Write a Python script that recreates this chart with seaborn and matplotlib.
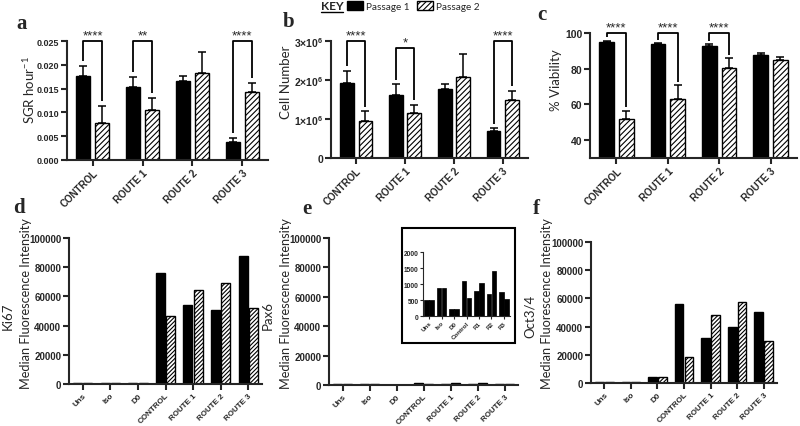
import numpy as np
import pandas as pd
import seaborn as sns
import matplotlib.pyplot as plt
from matplotlib.patches import Rectangle, Patch
from matplotlib.lines import Line2D

# ===============================
# DATA
# ===============================
routes = ["CONTROL", "ROUTE 1", "ROUTE 2", "ROUTE 3"]
passages = ["Passage 1", "Passage 2"]

sgr_p1 = [0.0177, 0.0153, 0.0166, 0.0037]
sgr_p1_err = [0.0020, 0.0022, 0.0010, 0.0009]
sgr_p2 = [0.0077, 0.0104, 0.0182, 0.0143]
sgr_p2_err = [0.0036, 0.0027, 0.0045, 0.0019]

cells_p1 = [1.93e6, 1.62e6, 1.78e6, 0.70e6]
cells_p1_err = [0.30e6, 0.27e6, 0.13e6, 0.06e6]
cells_p2 = [0.94e6, 1.16e6, 2.07e6, 1.50e6]
cells_p2_err = [0.26e6, 0.20e6, 0.59e6, 0.22e6]

via_p1 = [94.8, 93.7, 92.7, 87.7]
via_p1_err = [0.9, 0.5, 1.2, 0.9]
via_p2 = [51.6, 63.1, 80.4, 85.1]
via_p2_err = [4.9, 7.9, 5.6, 1.3]

sig_a = [(0, "****", 0.025), (1, "**", 0.025), (3, "****", 0.025)]
sig_b = [(0, "****", 3.0e6), (1, "*", 2.82e6), (3, "****", 3.0e6)]
sig_c = [(0, "****", 100), (1, "****", 100), (2, "****", 100)]

cb_ticks = [0, 1e6, 2e6, 3e6]
cb_labels = ["0", r"1$\times$10$^6$", r"2$\times$10$^6$", r"3$\times$10$^6$"]

flow_groups = ["Uns", "Iso", "D0", "CONTROL", "ROUTE 1", "ROUTE 2", "ROUTE 3"]
inset_groups = ["Uns", "Iso", "D0", "Control", "R1", "R2", "R3"]

ki67_p1 = [500, 500, 500, 75900, 54300, 50500, 87400]
ki67_p2 = [500, 500, 500, 46900, 64600, 69300, 52300]
pax6_p1 = [500, 870, 220, 1090, 770, 690, 750]
pax6_p2 = [500, 870, 220, 560, 1040, 1420, 520]
oct_p1 = [500, 900, 4300, 56000, 32000, 40000, 50500]
oct_p2 = [500, 900, 4300, 18500, 48500, 57500, 30000]

mfi_ticks = [0, 20000, 40000, 60000, 80000, 100000]
inset_ticks = [0, 500, 1000, 1500, 2000]

# ===============================
# STYLE
# ===============================
sns.set_theme(style="ticks")
plt.rcParams['font.family'] = ['Liberation Sans', 'DejaVu Sans']
plt.rcParams['hatch.linewidth'] = 0.8
plt.rcParams['mathtext.default'] = 'regular'

W, H = 800, 427
fig = plt.figure(figsize=(8, 4.27), dpi=100)


def rect(left, top, right, bottom):
    return [left / W, 1 - bottom / H, (right - left) / W, (bottom - top) / H]


def fx(px):
    return px / W


def fy(py):
    return 1 - py / H


def draw_bars(ax, groups, p1, p2, width, gap, hatch, colors=("black", "white"), lw=1.0):
    df = pd.DataFrame({
        "group": list(groups) * 2,
        "passage": [passages[0]] * len(groups) + [passages[1]] * len(groups),
        "value": list(p1) + list(p2),
    })
    sns.barplot(data=df, x="group", y="value", hue="passage", palette=list(colors),
                edgecolor="black", linewidth=lw, width=width, gap=gap, saturation=1,
                errorbar=None, legend=False, ax=ax)
    if hatch:
        for bar in ax.containers[1]:
            bar.set_hatch(hatch)
    return ax.containers


def centers(cont):
    return [b.get_x() + b.get_width() / 2 for b in cont]


def up_errors(ax, conts, vals, errs):
    for cont, v, e in zip(conts, vals, errs):
        ax.errorbar(centers(cont), v, yerr=[np.zeros(len(v)), e], fmt="none",
                    ecolor="black", elinewidth=1.1, capsize=3, capthick=1.1, zorder=3)


def brackets(ax, conts, vals, errs, sigs, offset):
    c1, c2 = centers(conts[0]), centers(conts[1])
    for i, txt, top in sigs:
        y1 = vals[0][i] + errs[0][i] + offset
        y2 = vals[1][i] + errs[1][i] + offset
        ax.plot([c1[i], c1[i], c2[i], c2[i]], [y1, top, top, y2], color="black",
                lw=1.3, clip_on=False, solid_capstyle="butt")
        ax.text((c1[i] + c2[i]) / 2, top, txt, ha="center", va="bottom",
                fontsize=9.5, clip_on=False)


def prism(ax, groups, xsize=6.5, ysize=6.5, lw=1.5):
    sns.despine(ax=ax)
    for s in ["left", "bottom"]:
        ax.spines[s].set_linewidth(lw)
    ax.tick_params(width=lw, length=4, direction="out", pad=1.5)
    ax.set_xlabel("")
    ax.set_ylabel("")
    ax.set_xticks(range(len(groups)))
    ax.set_xticklabels(groups, rotation=45, ha="right", rotation_mode="anchor",
                       fontweight="bold", fontsize=xsize)
    for lbl in ax.get_yticklabels():
        lbl.set_fontweight("bold")
        lbl.set_fontsize(ysize)


# ===============================
# TOP ROW: a, b, c
# ===============================
ax_a = fig.add_axes(rect(67, 42, 268, 161))
conts = draw_bars(ax_a, routes, sgr_p1, sgr_p2, 0.76, 0.25, "//////")
up_errors(ax_a, conts, [sgr_p1, sgr_p2], [sgr_p1_err, sgr_p2_err])
ax_a.set_ylim(0, 0.025)
ax_a.set_yticks([0, 0.005, 0.010, 0.015, 0.020, 0.025])
ax_a.set_yticklabels(["0.000", "0.005", "0.010", "0.015", "0.020", "0.025"])
prism(ax_a, routes, xsize=7)
brackets(ax_a, conts, [sgr_p1, sgr_p2], [sgr_p1_err, sgr_p2_err], sig_a, 0.001)

ax_b = fig.add_axes(rect(331, 42, 528, 159))
conts = draw_bars(ax_b, routes, cells_p1, cells_p2, 0.76, 0.25, "//////")
up_errors(ax_b, conts, [cells_p1, cells_p2], [cells_p1_err, cells_p2_err])
ax_b.set_ylim(0, 3e6)
ax_b.set_yticks(cb_ticks)
ax_b.set_yticklabels(cb_labels)
prism(ax_b, routes, xsize=7, ysize=7.5)
brackets(ax_b, conts, [cells_p1, cells_p2], [cells_p1_err, cells_p2_err], sig_b, 0.12e6)

ax_c = fig.add_axes(rect(590, 34, 797, 159))
conts = draw_bars(ax_c, routes, via_p1, via_p2, 0.76, 0.25, "//////")
up_errors(ax_c, conts, [via_p1, via_p2], [via_p1_err, via_p2_err])
ax_c.set_ylim(30, 100)
ax_c.set_yticks([40, 60, 80, 100])
prism(ax_c, routes, xsize=7, ysize=7.5)
brackets(ax_c, conts, [via_p1, via_p2], [via_p1_err, via_p2_err], sig_c, 1.8)

# ===============================
# BOTTOM ROW: d, e, f
# ===============================
ax_d = fig.add_axes(rect(69, 239, 262, 385))
draw_bars(ax_d, flow_groups, ki67_p1, ki67_p2, 0.74, 0.12, "////////")
ax_d.set_ylim(0, 100000)
ax_d.set_yticks(mfi_ticks)
prism(ax_d, flow_groups, xsize=5.8, ysize=7)

ax_e = fig.add_axes(rect(329, 239, 518, 386))
draw_bars(ax_e, flow_groups, pax6_p1, pax6_p2, 0.74, 0.12, "////////")
ax_e.set_ylim(0, 100000)
ax_e.set_yticks(mfi_ticks)
prism(ax_e, flow_groups, xsize=5.8, ysize=7)

ax_f = fig.add_axes(rect(591, 243, 777, 384))
draw_bars(ax_f, flow_groups, oct_p1, oct_p2, 0.74, 0.12, "////////")
ax_f.set_ylim(0, 100000)
ax_f.set_yticks(mfi_ticks)
prism(ax_f, flow_groups, xsize=5.8, ysize=7)

# inset for Pax6
ax_in = fig.add_axes(rect(423, 253, 510, 317))
draw_bars(ax_in, inset_groups, pax6_p1, pax6_p2, 0.8, 0.1, None,
          colors=("black", "black"), lw=0.5)
ax_in.set_ylim(0, 2000)
ax_in.set_yticks(inset_ticks)
prism(ax_in, inset_groups, xsize=4.5, ysize=4.8, lw=0.8)
ax_in.tick_params(length=2, pad=1)
fig.patches.append(Rectangle((fx(402), fy(344)), (515 - 402) / W, (344 - 229) / H,
                             transform=fig.transFigure, fill=False, ec="black", lw=1.5))

# ===============================
# LABELS
# ===============================
lab = dict(family=["Lato", "DejaVu Sans"], fontsize=9.5, rotation=90, ha="center", va="center")
fig.text(fx(29), fy(90), "SGR hour$^{-1}$", **lab)
fig.text(fx(286), fy(82), "Cell Number", **lab)
fig.text(fx(556), fy(80), "% Viability", **lab)
for xm, xl, name in [(8, 26, "Ki67"), (268, 286, "Pax6"), (530, 547, "Oct3/4")]:
    fig.text(fx(xm), fy(316), name, **lab)
    fig.text(fx(xl), fy(304), "Median Fluorescence Intensity", **dict(lab, fontsize=9.2))

letter = dict(family=["Liberation Serif", "DejaVu Serif"], fontsize=15, fontweight="bold")
for x, y, t in [(16, 29, "a"), (283, 27, "b"), (537, 20, "c"),
                (13, 213, "d"), (302, 214, "e"), (533, 214, "f")]:
    fig.text(fx(x), fy(y), t, **letter)

# key
fig.text(fx(321), fy(7), "KEY", family=["Lato", "DejaVu Sans"], fontweight="bold",
         fontsize=8.5, va="center")
fig.add_artist(Line2D([fx(321), fx(343)], [fy(13), fy(13)], color="black", lw=1.0,
                      transform=fig.transFigure))
handles = [Patch(facecolor="black", edgecolor="black"),
           Patch(facecolor="white", edgecolor="black", hatch="//////")]
fig.legend(handles, passages, ncol=2, loc="center left", bbox_to_anchor=(fx(347), fy(7)),
           frameon=False, prop={"family": "Lato", "size": 7.2}, handlelength=1.55,
           handleheight=0.9, columnspacing=0.8, handletextpad=0.3, borderpad=0,
           borderaxespad=0)

fig.savefig("out.png", dpi=100)
